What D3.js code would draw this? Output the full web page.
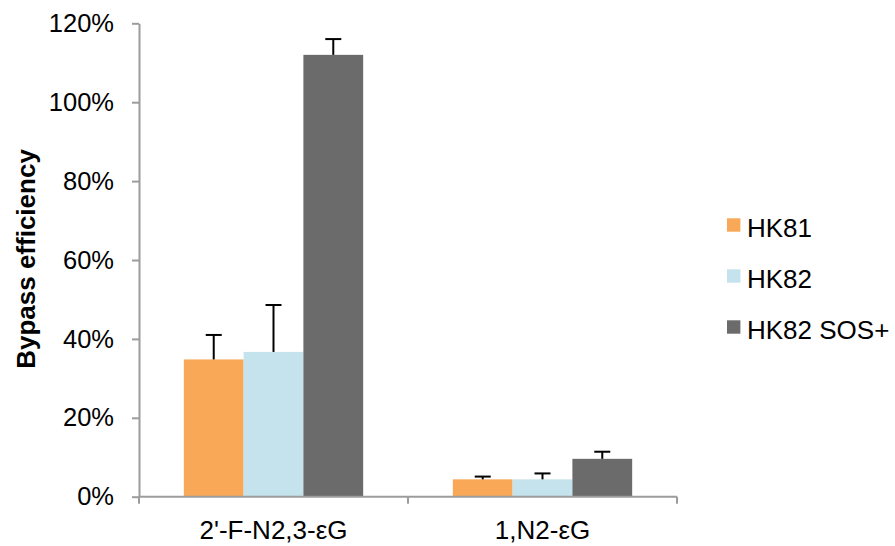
<!doctype html>
<html>
  <head>
    <meta charset="utf-8">
    <title>Bypass efficiency</title>
    <style>
      body { margin: 0; background: #fff; }
      svg { display: block; font-family: "Liberation Sans", Arial, sans-serif; }
      .tick text { fill: #000; }
    </style>
  </head>
  <body>
    <div id="chart"></div>
    <script src="https://d3js.org/d3.v7.min.js"></script>
    <script>
      const categories = ["2'-F-N2,3-εG", '1,N2-εG'];
      const seriesNames = ['HK81', 'HK82', 'HK82 SOS+'];
      const seriesColors = ['#f8a857', '#c4e3ec', '#6b6b6b'];
      // percentages, one entry per category
      const hk81 = [34.8, 4.4];
      const hk82 = [36.7, 4.4];
      const hk82sos = [112.0, 9.6];
      const hk81Err = [6.2, 0.7];
      const hk82Err = [11.9, 1.5];
      const hk82sosErr = [4.0, 1.8];
      const yTicks = [0, 20, 40, 60, 80, 100, 120];

      const values = [hk81, hk82, hk82sos];
      const errors = [hk81Err, hk82Err, hk82sosErr];

      const width = 895, height = 546;
      const plotLeft = 139, plotRight = 677, plotTop = 23.3, plotBottom = 496.7;

      const svg = d3.select('#chart')
        .append('svg')
        .attr('width', width)
        .attr('height', height);

      const y = d3.scaleLinear().domain([0, 120]).range([plotBottom, plotTop]);
      const x0 = d3.scaleBand().domain(categories).range([plotLeft, plotRight]);
      const x1 = d3.scaleBand().domain(seriesNames)
        .range([0, x0.bandwidth()])
        .paddingOuter(0.75);

      // y axis
      const yAxis = svg.append('g')
        .attr('transform', `translate(${plotLeft},0)`)
        .call(d3.axisLeft(y).tickValues(yTicks).tickSize(7).tickSizeOuter(0).tickPadding(18)
          .tickFormat(d => d + '%'));
      yAxis.selectAll('path, line').attr('stroke', '#9c9c9c').attr('stroke-width', 2);
      yAxis.selectAll('text').attr('font-size', 25.5).attr('font-family', 'Liberation Sans, Arial, sans-serif');

      // bars
      const data = [];
      categories.forEach((c, ci) => {
        seriesNames.forEach((s, si) => {
          data.push({cat: c, name: s, value: values[si][ci], err: errors[si][ci], color: seriesColors[si]});
        });
      });

      svg.append('g')
        .selectAll('rect')
        .data(data)
        .join('rect')
        .attr('x', d => x0(d.cat) + x1(d.name))
        .attr('y', d => y(d.value))
        .attr('width', x1.bandwidth())
        .attr('height', d => y(0) - y(d.value))
        .attr('fill', d => d.color);

      // error bars (upper only)
      const errG = svg.append('g').attr('stroke', '#000').attr('stroke-width', 2);
      data.forEach(d => {
        const cx = x0(d.cat) + x1(d.name) + x1.bandwidth() / 2;
        errG.append('line')
          .attr('x1', cx).attr('x2', cx)
          .attr('y1', y(d.value)).attr('y2', y(d.value + d.err));
        errG.append('line')
          .attr('x1', cx - 8).attr('x2', cx + 8)
          .attr('y1', y(d.value + d.err)).attr('y2', y(d.value + d.err));
      });

      // x axis
      const xAxis = svg.append('g')
        .attr('transform', `translate(0,${plotBottom})`);
      xAxis.append('line')
        .attr('x1', plotLeft).attr('x2', plotRight)
        .attr('stroke', '#9c9c9c').attr('stroke-width', 2);
      const bounds = categories.map(c => x0(c)).concat([plotRight]);
      xAxis.selectAll('.sep')
        .data(bounds)
        .join('line')
        .attr('class', 'sep')
        .attr('x1', d => d).attr('x2', d => d)
        .attr('y1', 0).attr('y2', 7)
        .attr('stroke', '#9c9c9c').attr('stroke-width', 2);
      xAxis.selectAll('.cat')
        .data(categories)
        .join('text')
        .attr('class', 'cat')
        .attr('x', d => x0(d) + x0.bandwidth() / 2)
        .attr('y', 42)
        .attr('text-anchor', 'middle')
        .attr('font-size', 26)
        .text(d => d);

      // y title
      svg.append('text')
        .attr('transform', `translate(35,259) rotate(-90)`)
        .attr('text-anchor', 'middle')
        .attr('font-size', 26)
        .attr('font-weight', 'bold')
        .text('Bypass efficiency');

      // legend
      const legend = svg.append('g').attr('transform', 'translate(727,225)');
      const item = legend.selectAll('g')
        .data(seriesNames)
        .join('g')
        .attr('transform', (d, i) => `translate(0,${i * 51})`);
      item.append('rect')
        .attr('x', 0).attr('y', -6.7)
        .attr('width', 13.4).attr('height', 13.4)
        .attr('fill', (d, i) => seriesColors[i]);
      item.append('text')
        .attr('x', 20)
        .attr('y', 11.7)
        .attr('font-size', 26)
        .text(d => d);
    </script>
  </body>
</html>
